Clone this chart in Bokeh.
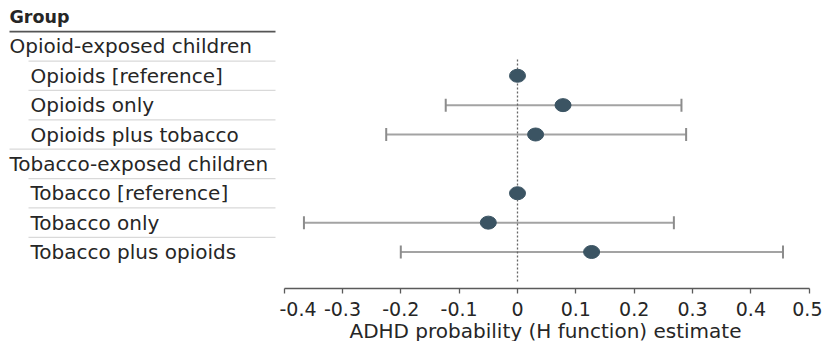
from bokeh.plotting import figure
from bokeh.layouts import row as brow
from bokeh.models import Range1d, ColumnDataSource, Whisker, TeeHead, FixedTicker
from bokeh.embed import file_html
from bokeh.resources import INLINE
from bokeh.core.properties import value

# ---- data ----
header_label = "Group"
group_labels = ["Opioid-exposed children", "Tobacco-exposed children"]
row_labels = [
    ["Opioids [reference]", "Opioids only", "Opioids plus tobacco"],
    ["Tobacco [reference]", "Tobacco only", "Tobacco plus opioids"],
]
estimate = [[0.0, 0.078, 0.031], [0.0, -0.050, 0.127]]
lower = [[None, -0.123, -0.225], [None, -0.366, -0.200]]
upper = [[None, 0.281, 0.289], [None, 0.268, 0.455]]
x_ticks = [-0.4, -0.3, -0.2, -0.1, 0.0, 0.1, 0.2, 0.3, 0.4, 0.5]
x_tick_labels = ["-0.4", "-0.3", "-0.2", "-0.1", "0", "0.1", "0.2", "0.3", "0.4", "0.5"]
x_title = "ADHD probability (H function) estimate"

# ---- layout (page pixels) ----
ORIGIN = 1          # where the figure starts on the page
PX_PER_UNIT = 583.5
ZERO_PX = 518.0
def px(xp):
    return (xp - ZERO_PX) / PX_PER_UNIT

FONT = "DejaVu Sans"
TEXT_COLOR = "#262626"
SPLIT = 280          # page x where the plot frame starts
RIGHT_END = 812      # page x where the plot frame ends
FRAME_H = 289 - ORIGIN

# rows
row_y, row_txt, row_x = [], [], []
pt_y, pt_x = [], []
wy, wlo, whi = [], [], []
r = 1
for g, glabel in enumerate(group_labels):
    row_y.append(r); row_txt.append(glabel); row_x.append(10)
    r += 1
    for k, lab in enumerate(row_labels[g]):
        row_y.append(r); row_txt.append(lab); row_x.append(31)
        pt_y.append(r); pt_x.append(estimate[g][k])
        if lower[g][k] is not None:
            wy.append(r); wlo.append(lower[g][k]); whi.append(upper[g][k])
        r += 1

ROW0 = 17.5
ROW_STEP = 29.375
y_range = Range1d((289 - ROW0) / ROW_STEP, (ORIGIN - ROW0) / ROW_STEP)

# ---- left: labels table ----
left = figure(frame_width=SPLIT - ORIGIN, frame_height=FRAME_H, output_backend="svg",
              toolbar_location=None, x_range=Range1d(ORIGIN, SPLIT), y_range=y_range,
              x_axis_location=None, y_axis_location=None, outline_line_color=None,
              min_border_left=0, min_border_right=0, min_border_top=0, min_border_bottom=60)
left.xgrid.visible = False
left.ygrid.visible = False

sep_y = [1.5, 2.5, 3.5, 4.5, 5.5, 6.5, 7.5]
sep_x0 = [29, 29, 29, 10, 29, 29, 29]
left.segment(x0=sep_x0, y0=sep_y, x1=[276] * len(sep_y), y1=sep_y,
             line_color="#d9d9d9", line_width=1.2)
left.segment(x0=[10], y0=[0.5], x1=[276], y1=[0.5], line_color="#555555", line_width=1.8)

left.text(x=[10], y=[0], text=[header_label], text_font=value(FONT), text_font_size="17.5px",
          text_font_style="bold", text_color=TEXT_COLOR, text_baseline="middle", text_align="left")
left.text(x=row_x, y=row_y, text=row_txt, text_font=value(FONT), text_font_size="20px",
          text_color=TEXT_COLOR, text_baseline="middle", text_align="left")

# ---- right: forest plot ----
p = figure(frame_width=RIGHT_END - SPLIT, frame_height=FRAME_H, output_backend="svg",
           toolbar_location=None, x_range=Range1d(px(SPLIT), px(RIGHT_END)), y_range=y_range,
           y_axis_location=None, outline_line_color=None,
           min_border_left=0, min_border_right=823 - RIGHT_END, min_border_top=0,
           min_border_bottom=60)
p.xgrid.visible = False
p.ygrid.visible = False

p.segment(x0=[0], y0=[1.45], x1=[0], y1=[9.07], line_color="#666666", line_width=1.3,
          line_dash="2 2")

wsrc = ColumnDataSource(dict(y=wy, lo=wlo, hi=whi))
wh = Whisker(source=wsrc, base="y", lower="lo", upper="hi", dimension="width",
             line_color="#a3a3a3", line_width=2,
             lower_head=TeeHead(size=13, line_color="#8c8c8c", line_width=2),
             upper_head=TeeHead(size=13, line_color="#8c8c8c", line_width=2))
wh.level = "underlay"
p.add_layout(wh)

p.ellipse(x=pt_x, y=pt_y, width=16, height=13, width_units="screen", height_units="screen",
          fill_color="#3b5463", line_color="#3b5463")

ax = p.xaxis[0]
ax.ticker = FixedTicker(ticks=x_ticks, minor_ticks=[])
ax.major_label_overrides = {t: l for t, l in zip(x_ticks, x_tick_labels)}
ax.bounds = (x_ticks[0], x_ticks[-1])
ax.axis_line_color = "#5a5a5a"
ax.axis_line_width = 1.3
ax.major_tick_line_color = "#5a5a5a"
ax.major_tick_line_width = 1.3
ax.major_tick_in = 0
ax.major_tick_out = 5
ax.minor_tick_line_color = None
ax.major_label_standoff = 8
ax.major_label_text_font = FONT
ax.major_label_text_font_size = "19px"
ax.major_label_text_color = TEXT_COLOR
ax.axis_label = x_title
ax.axis_label_standoff = 0
ax.axis_label_text_font = FONT
ax.axis_label_text_font_size = "20px"
ax.axis_label_text_font_style = "normal"
ax.axis_label_text_color = TEXT_COLOR

layout = brow(left, p)
open("out.html", "w").write(file_html(layout, INLINE))
